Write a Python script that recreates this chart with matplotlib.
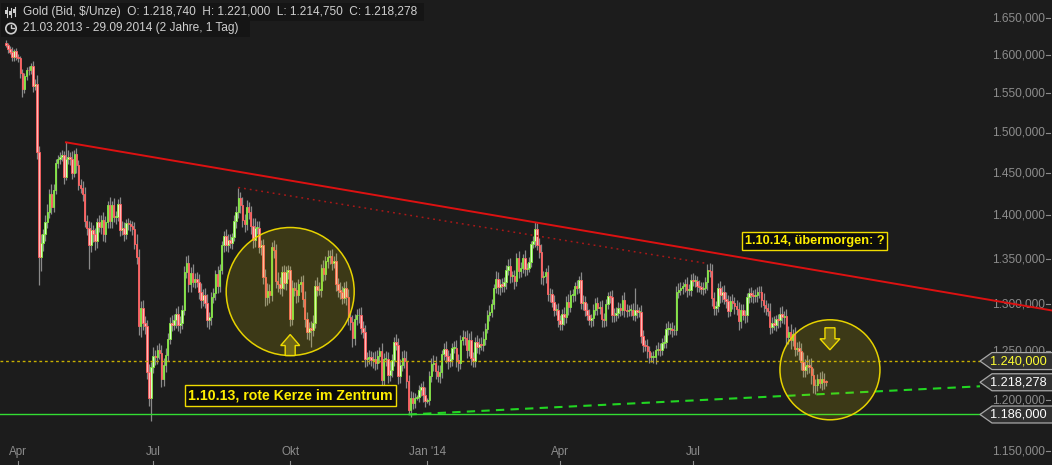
import math

import numpy as np
import pandas as pd
import matplotlib
matplotlib.use("Agg")
import matplotlib.pyplot as plt  # noqa: E402
from matplotlib.patches import Circle, Polygon, Rectangle  # noqa: E402

W, H = 1052, 465
BG = "#1c1c1c"
FONT = "Liberation Sans"

START, END = "2013-03-21", "2014-09-29"
HOLIDAYS = ["2013-03-29", "2014-04-18"]  # Karfreitag, no bars

OPEN_FIRST = 1616.0
# daily closes, one row per week
CLOSE = [
    1614, 1608,
    1605, 1598, 1606, 1597,
    1596, 1576, 1555, 1572, 1581,
    1580, 1586, 1560, 1562, 1476,
    1352, 1368, 1378, 1392, 1404,
    1425, 1410, 1430, 1462, 1467,
    1470, 1472, 1446, 1467, 1470,
    1468, 1450, 1473, 1460, 1436,
    1433, 1425, 1394, 1386, 1366,
    1383, 1378, 1370, 1392, 1387,
    1395, 1378, 1392, 1412, 1393,
    1412, 1398, 1398, 1413, 1383,
    1386, 1378, 1391, 1390, 1388,
    1384, 1367, 1352, 1277, 1296,
    1280, 1277, 1229, 1202, 1234,
    1245, 1244, 1251, 1248, 1222,
    1236, 1246, 1263, 1280, 1278,
    1283, 1290, 1278, 1280, 1294,
    1336, 1346, 1322, 1334, 1325,
    1328, 1325, 1314, 1305, 1310,
    1302, 1283, 1286, 1308, 1312,
    1333, 1320, 1338, 1366, 1376,
    1366, 1372, 1368, 1375, 1394,
    1404, 1420, 1412, 1395, 1390,
    1410, 1404, 1388, 1372, 1386,
    1386, 1364, 1366, 1330, 1308,
    1315, 1310, 1364, 1360, 1326,
    1322, 1318, 1336, 1323, 1336,
    1338, 1284, 1318, 1316, 1310,
    1322, 1324, 1306, 1284, 1270,
    1275, 1272, 1280, 1320, 1316,
    1316, 1340, 1333, 1348, 1352,
    1353, 1346, 1348, 1322, 1316,
    1314, 1307, 1318, 1308, 1286,
    1281, 1264, 1284, 1288, 1288,
    1275, 1270, 1242, 1243, 1244,
    1241, 1242, 1238, 1245, 1250,
    1221, 1242, 1242, 1226, 1231,
    1241, 1260, 1257, 1225, 1236,
    1243, 1240, 1220, 1190, 1202,
    1197, 1202, 1203, 1210, 1213,
    1205, 1199, 1200, 1225, 1237,
    1238, 1230, 1225, 1229, 1247,
    1253, 1245, 1240, 1242, 1254,
    1254, 1241, 1238, 1262, 1265,
    1264, 1251, 1262, 1243, 1240,
    1260, 1255, 1258, 1257, 1263,
    1274, 1289, 1292, 1300, 1318,
    1328, 1319, 1322, 1320, 1324,
    1338, 1342, 1331, 1331, 1326,
    1351, 1337, 1340, 1351, 1339,
    1340, 1347, 1367, 1370, 1384,
    1366, 1358, 1330, 1331, 1335,
    1311, 1311, 1303, 1294, 1294,
    1283, 1279, 1290, 1286, 1303,
    1297, 1310, 1310, 1320, 1318,
    1327, 1302, 1303, 1294,
    1289, 1283, 1285, 1294, 1302,
    1296, 1297, 1284, 1283, 1300,
    1309, 1308, 1289, 1288, 1291,
    1296, 1294, 1305, 1294, 1293,
    1294, 1294, 1288, 1294, 1292,
    1292, 1266, 1257, 1256, 1250,
    1244, 1244, 1244, 1252, 1253,
    1252, 1259, 1260, 1274, 1274,
    1274, 1272, 1273, 1314, 1316,
    1318, 1320, 1322, 1316, 1316,
    1327, 1326, 1326, 1320, 1319,
    1317, 1318, 1324, 1338, 1337,
    1307, 1296, 1298, 1318, 1310,
    1314, 1306, 1304, 1293, 1304,
    1302, 1298, 1295, 1282, 1294,
    1289, 1288, 1308, 1312, 1310,
    1309, 1310, 1314, 1313, 1305,
    1299, 1296, 1293, 1276, 1280,
    1278, 1284, 1283, 1290, 1286,
    1287, 1265, 1270, 1262, 1268,
    1253, 1254, 1250, 1239, 1231,
    1235, 1236, 1234, 1226, 1215,
    1216, 1222, 1218, 1222, 1218.74,
    1218.278,
]
# upper / lower wick beyond the body, $ per day
UP = [
    4, 3,
    5, 6, 3, 4,
    4, 3, 6, 5, 4,
    5, 4, 7, 6, 12,
    8, 10, 6, 8, 9,
    6, 12, 7, 6, 5,
    6, 7, 5, 21, 8,
    6, 9, 5, 8, 6,
    7, 8, 9, 6, 8,
    9, 6, 7, 5, 8,
    6, 9, 7, 5, 10,
    5, 8, 7, 6, 9,
    7, 6, 5, 6, 5,
    5, 8, 11, 9, 8,
    9, 7, 6, 8, 5,
    10, 7, 6, 8, 9,
    7, 8, 6, 6, 9,
    7, 6, 8, 7, 5,
    6, 8, 9, 7, 10,
    6, 7, 8, 9, 7,
    8, 9, 6, 5, 6,
    5, 9, 6, 5, 6,
    8, 6, 7, 5, 6,
    7, 13, 8, 10, 7,
    8, 6, 7, 9, 11,
    7, 8, 6, 7, 9,
    8, 7, 5, 8, 7,
    9, 8, 6, 7, 6,
    5, 4, 9, 7, 8,
    6, 7, 8, 9, 8,
    6, 7, 8, 7, 10,
    8, 5, 9, 6, 8,
    7, 8, 6, 9, 7,
    8, 6, 7, 8, 9,
    7, 8, 6, 7, 8,
    9, 7, 8, 6, 7,
    6, 7, 8, 6, 5,
    9, 6, 8, 7, 9,
    6, 5, 8, 7, 6,
    7, 8, 10, 6, 7,
    6, 5, 2, 6, 5,
    7, 8, 2, 5, 6,
    8, 7, 6, 7, 5,
    6, 8, 7, 6, 5,
    7, 8, 6, 5, 7,
    6, 8, 7, 9, 6,
    5, 7, 6, 7, 8,
    6, 5, 7, 6, 4,
    9, 8, 6, 7, 6,
    5, 8, 9, 6, 7,
    6, 8, 7, 5, 9,
    6, 5, 4, 6, 8,
    7, 8, 9, 6, 5,
    8, 7, 6, 7, 6,
    7, 6, 5, 7, 6,
    8, 6, 7, 5, 7,
    4, 8, 7, 6,
    7, 6, 5, 6, 5,
    6, 7, 8, 7, 6,
    5, 6, 8, 7, 6,
    7, 6, 5, 8, 6,
    5, 6, 7, 24, 6,
    5, 7, 6, 5, 7,
    6, 5, 6, 5, 7,
    6, 5, 7, 6, 8,
    6, 7, 5, 6, 7,
    7, 5, 6, 8, 6,
    6, 7, 6, 5, 7,
    6, 7, 6, 7, 8,
    8, 7, 6, 5, 8,
    6, 7, 8, 6, 5,
    7, 6, 7, 8, 6,
    6, 5, 4, 6, 7,
    6, 7, 5, 6, 7,
    7, 6, 5, 8, 6,
    7, 5, 6, 7, 8,
    6, 8, 7, 9, 6,
    8, 6, 7, 9, 10,
    7, 10, 6, 9, 7,
    6, 5, 7, 8, 6,
    2.26,
]
DN = [
    3, 5,
    4, 5, 6, 3,
    5, 6, 10, 4, 5,
    6, 5, 8, 6, 8,
    31, 15, 9, 8, 6,
    7, 8, 6, 5, 6,
    6, 5, 9, 4, 6,
    8, 7, 5, 9, 6,
    6, 8, 7, 9, 27,
    8, 9, 10, 7, 6,
    8, 7, 9, 6, 8,
    7, 6, 8, 5, 7,
    6, 8, 5, 7, 6,
    7, 6, 8, 10, 12,
    8, 9, 7, 8, 22,
    6, 8, 7, 6, 9,
    8, 7, 6, 5, 7,
    6, 8, 7, 9, 6,
    5, 7, 9, 8, 6,
    7, 6, 8, 9, 7,
    6, 7, 9, 8, 6,
    7, 8, 6, 5, 8,
    7, 8, 6, 7, 5,
    8, 7, 9, 8, 9,
    7, 8, 9, 10, 8,
    8, 7, 9, 8, 10,
    9, 8, 6, 9, 8,
    8, 7, 9, 6, 7,
    8, 7, 6, 7, 8,
    7, 8, 9, 8, 7,
    8, 17, 6, 5, 7,
    6, 8, 7, 6, 8,
    7, 8, 6, 7, 8,
    8, 7, 6, 9, 8,
    8, 9, 7, 6, 8,
    7, 6, 8, 7, 6,
    6, 8, 7, 6, 7,
    9, 6, 7, 8, 6,
    7, 6, 5, 8, 7,
    6, 7, 8, 4, 6,
    6, 5, 2, 5, 6,
    7, 6, 2, 5, 6,
    7, 8, 6, 7, 6,
    6, 7, 8, 6, 7,
    6, 7, 8, 6, 5,
    7, 8, 6, 7, 6,
    6, 7, 8, 6, 7,
    6, 5, 7, 6, 5,
    6, 8, 9, 7, 6,
    7, 6, 8, 7, 9,
    6, 8, 7, 6, 8,
    7, 5, 6, 5, 6,
    6, 7, 8, 9, 8,
    7, 8, 6, 7, 6,
    7, 6, 7, 8, 6,
    8, 5, 7, 6, 7,
    6, 7, 8, 7,
    6, 5, 7, 8, 6,
    7, 6, 8, 7, 6,
    5, 6, 8, 7, 6,
    6, 7, 6, 8, 7,
    6, 7, 5, 6, 7,
    6, 7, 8, 6, 7,
    6, 5, 6, 7, 6,
    7, 6, 5, 6, 7,
    6, 7, 5, 6, 7,
    6, 7, 6, 8, 6,
    7, 6, 7, 6, 5,
    6, 7, 6, 8, 7,
    9, 8, 7, 6, 8,
    7, 6, 8, 7, 6,
    7, 8, 6, 9, 7,
    6, 8, 7, 6, 7,
    7, 6, 7, 6, 8,
    7, 8, 6, 8, 7,
    6, 7, 8, 7, 6,
    7, 8, 7, 9, 6,
    8, 7, 9, 8, 7,
    7, 8, 6, 9, 8,
    9, 7, 6, 8, 7,
    3.528,
]

LEVEL_1240 = 1240.0
CIRCLES = [("2013-10-01", 1314.0, 64), ("2014-10-01", 1231.0, 50)]
NOTE_LEFT = "1.10.13, rote Kerze im Zentrum"
NOTE_RIGHT = "1.10.14, übermorgen: ?"
MONTHS = {1: "Jan", 4: "Apr", 7: "Jul", 10: "Okt"}

# pixel frame of the reference: x = X0 + DX * bar index, log price axis
X0, DX = 5.78, 2.076
P_TOP, P_BOT = 1675.4, 1137.1
TAG_X = 980


def de(v):
    return f"{v:,.3f}".replace(",", "X").replace(".", ",").replace("X", ".")


dates = pd.bdate_range(START, END)
dates = dates[~dates.isin(pd.to_datetime(HOLIDAYS))]
close = np.array(CLOSE, float)
assert len(close) == len(dates) == len(UP) == len(DN), (len(close), len(dates), len(UP), len(DN))
opn = np.r_[OPEN_FIRST, close[:-1]]
high = np.maximum(opn, close) + np.array(UP, float)
low = np.minimum(opn, close) - np.array(DN, float)
idx = np.arange(len(close))


def bar_of(day):
    d = pd.Timestamp(day)
    if d > dates[-1]:
        extra = len(pd.bdate_range(dates[-1], d)) - 1
        return len(dates) - 1 + extra
    return int(np.searchsorted(dates, d))


fig = plt.figure(figsize=(W / 100, H / 100), dpi=100, facecolor=BG)
ax = fig.add_axes([0, 0, 1, 1])
ax.set_facecolor(BG)
ax.set_yscale("log")
ax.set_xlim(-X0 / DX, (W - X0) / DX)
ax.set_ylim(P_BOT, P_TOP)
ax.axis("off")

ov = fig.add_axes([0, 0, 1, 1], zorder=5)
ov.set_xlim(0, W)
ov.set_ylim(H, 0)
ov.axis("off")
ov.patch.set_alpha(0)


def to_px(i, p):
    x, y = ax.transData.transform((i, p))
    return x, H - y


def px_to_bar(x):
    return ax.transData.inverted().transform((x, 0))[0]


# candles
up_day = close >= opn
ax.vlines(idx, low, high, color="#8a8a8a", lw=0.9, zorder=2)
body_lo = np.minimum(opn, close)
body_h = np.maximum(np.abs(close - opn), 0.8)
ax.bar(idx[up_day], body_h[up_day], bottom=body_lo[up_day], width=0.72,
       color="#d8ffc4", edgecolor="#7fe63c", lw=0.6, zorder=3)
ax.bar(idx[~up_day], body_h[~up_day], bottom=body_lo[~up_day], width=0.72,
       color="#ffb8b8", edgecolor="#ff5c5c", lw=0.6, zorder=3)

# y labels (under the lines, as in the reference)
for p in range(1150, 1651, 50):
    ax.text(1045 / W, p, de(p), transform=ax.get_yaxis_transform(), ha="right",
            va="center", fontsize=8.6, color="#8c8c8c", family=FONT, zorder=1)
    _, py = to_px(0, p)
    ov.plot([1046, 1050], [py, py], color="#8c8c8c", lw=0.8)

# trend lines
x_right = (W - X0) / DX
i0, i1 = bar_of("2013-05-02"), bar_of("2014-03-14")
k = (math.log(high[i1]) - math.log(high[i0])) / (i1 - i0)
ax.plot([i0, x_right], [high[i0], math.exp(math.log(high[i0]) + k * (x_right - i0))],
        color="#dd1111", lw=1.4, zorder=4)
j0, j1 = bar_of("2013-08-27"), bar_of("2014-07-10")
ax.plot([j0, j1], [high[j0], high[j1]], color="#a81818", lw=1.1,
        ls=(0, (1.2, 2.6)), zorder=4)
g0, g1 = bar_of("2013-12-19"), bar_of("2014-09-22")
x_tag = px_to_bar(TAG_X)
kg = (math.log(low[g1]) - math.log(low[g0])) / (g1 - g0)
ax.plot([g0, x_tag], [low[g0], math.exp(math.log(low[g0]) + kg * (x_tag - g0))],
        color="#22d622", lw=1.5, ls=(0, (4, 3)), zorder=4)
level_low = low[g0]
ax.plot([-X0 / DX, x_tag], [level_low, level_low], color="#33dd33", lw=1.0, zorder=4)
ax.plot([-X0 / DX, x_tag], [LEVEL_1240, LEVEL_1240], color="#c8b000", lw=1.0,
        ls=(0, (2, 2)), zorder=4)

# circles and arrows
centers = []
for day, price, r in CIRCLES:
    cx, cy = to_px(bar_of(day), price)
    centers.append((cx, cy, r))
    ov.add_patch(Circle((cx, cy), r, fc="#e6d200", alpha=0.16, ec="none"))
    ov.add_patch(Circle((cx, cy), r, fc="none", ec="#e6d200", lw=1.1))

cx, cy, r = centers[0]
b = cy + r
t = b - 21
ov.add_patch(Polygon([(cx, t), (cx + 9.5, t + 11), (cx + 5, t + 11), (cx + 5, b),
                      (cx - 5, b), (cx - 5, t + 11), (cx - 9.5, t + 11)],
                     closed=True, fc="#6e6518", ec="#f0dc00", lw=1.0))
cx, cy, r = centers[1]
t = cy - r + 8
ov.add_patch(Polygon([(cx - 5, t), (cx + 5, t), (cx + 5, t + 11), (cx + 10, t + 11),
                      (cx, t + 22), (cx - 10, t + 11), (cx - 5, t + 11)],
                     closed=True, fc="#6e6518", ec="#f0dc00", lw=1.0))

box = dict(boxstyle="square,pad=0.22", fc="#0c0c0c", ec="#f0dc00", lw=1.0)
cx, cy, r = centers[0]
ov.text(cx, cy + r + 40, NOTE_LEFT, ha="center", va="center", fontsize=10.2,
        weight="bold", color="#ffee00", family=FONT, bbox=box)
ov.text(745, 241, NOTE_RIGHT, ha="left", va="center", fontsize=9.2,
        weight="bold", color="#ffee00", family=FONT, bbox=box)

# price tags on the right
for price, col in [(LEVEL_1240, "#ffff33"), (close[-1], "#ffffff"), (level_low, "#ffffff")]:
    _, py = to_px(0, price)
    ov.add_patch(Polygon([(TAG_X, py), (TAG_X + 12, py - 8.5), (W + 2, py - 8.5),
                          (W + 2, py + 8.5), (TAG_X + 12, py + 8.5)],
                         closed=True, fc="#303030", ec="#a8a8a8", lw=0.9))
    ov.text(1047, py, de(price), ha="right", va="center", fontsize=9.2,
            color=col, family=FONT)

# x axis month labels
for (yy, mm) in [(2013, 4), (2013, 7), (2013, 10), (2014, 1), (2014, 4), (2014, 7)]:
    i = bar_of(f"{yy}-{mm:02d}-01")
    px, _ = to_px(i, 1200)
    lab = MONTHS[mm] + (f" '{yy % 100}" if mm == 1 else "")
    ov.text(px, 452, lab, ha="center", va="center", fontsize=8.4,
            color="#8c8c8c", family=FONT)
    ov.plot([px, px], [461, 465], color="#8c8c8c", lw=0.8)

# header
hdr = (f"Gold (Bid, $/Unze)  O: {de(opn[-1])}  H: {de(high[-1])}  "
       f"L: {de(low[-1])}  C: {de(close[-1])}")
rng = f"{dates[0]:%d.%m.%Y} - {dates[-1]:%d.%m.%Y} (2 Jahre, 1 Tag)"
ov.add_patch(Rectangle((1, 3), 423, 18, fc="#151515", ec="none"))
ov.add_patch(Rectangle((1, 20), 249, 17, fc="#151515", ec="none"))
ov.text(23, 12.5, hdr, ha="left", va="center", fontsize=8.6, color="#cfcfcf", family=FONT)
ov.text(23, 28.5, rng, ha="left", va="center", fontsize=8.6, color="#cfcfcf", family=FONT)
for xi, (a, bb, c, d) in zip([6.5, 10.5, 14.5], [(7, 17, 10, 14), (8, 17, 11, 15), (7, 16, 9, 13)]):
    ov.plot([xi, xi], [a, bb], color="#cfcfcf", lw=0.8)
    ov.add_patch(Rectangle((xi - 1.3, c), 2.6, d - c, fc="#cfcfcf", ec="none"))
ov.add_patch(Circle((11, 28.5), 5.2, fc="none", ec="#cfcfcf", lw=1.2))
ov.plot([11, 11, 13.5], [25, 28.5, 28.5], color="#cfcfcf", lw=1.0)

fig.savefig("out.png", dpi=100, facecolor=BG)
